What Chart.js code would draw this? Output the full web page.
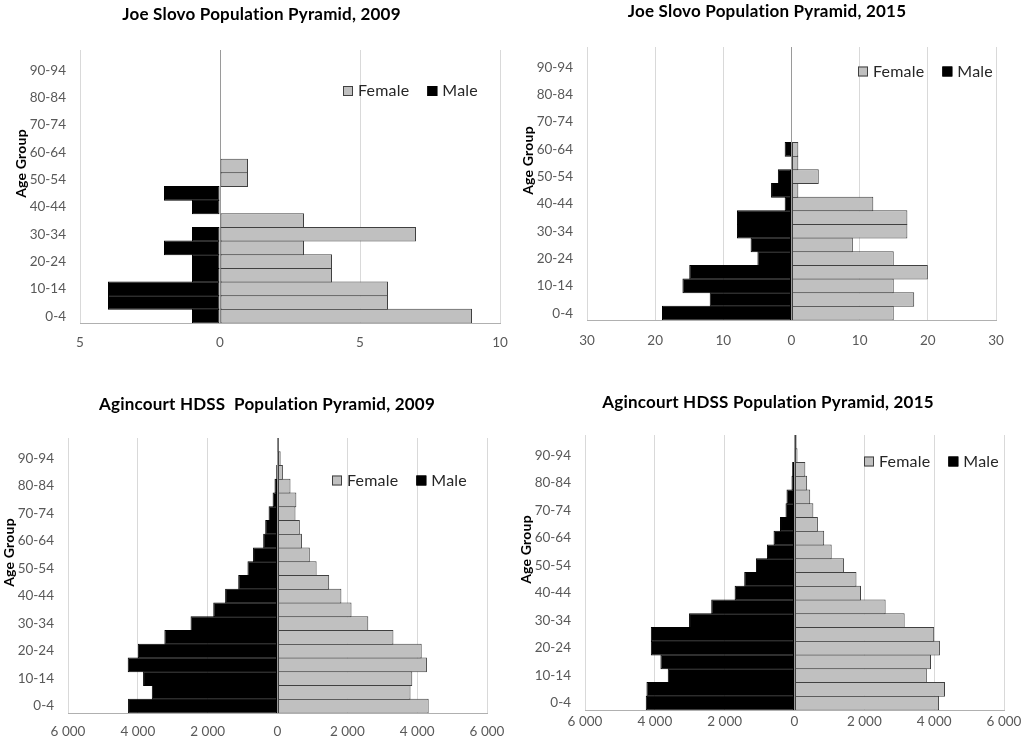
<!DOCTYPE html>
<html>
<head>
<meta charset="utf-8">
<script src="https://cdn.jsdelivr.net/npm/chart.js@4.4.1/dist/chart.umd.min.js"></script>
<style>
  body { margin: 0; background: #fff; }
  canvas { position: absolute; }
</style>
</head>
<body>
<canvas id="c1" width="512" height="371" style="left:0;top:0"></canvas>
<canvas id="c2" width="511" height="371" style="left:512px;top:0"></canvas>
<canvas id="c3" width="512" height="371" style="left:0;top:371px"></canvas>
<canvas id="c4" width="511" height="371" style="left:512px;top:371px"></canvas>
<script>
const ageGroups = ['0-4', '5-9', '10-14', '15-19', '20-24', '25-29', '30-34', '35-39', '40-44', '45-49',
    '50-54', '55-59', '60-64', '65-69', '70-74', '75-79', '80-84', '85-89', '90-94', '95+'];

// Joe Slovo
const jsFemale2009 = [9, 6, 6, 4, 4, 3, 7, 3, 0, 0, 1, 1, 0, 0, 0, 0, 0, 0, 0, 0];
const jsMale2009   = [1, 4, 4, 1, 1, 2, 1, 0, 1, 2, 0, 0, 0, 0, 0, 0, 0, 0, 0, 0];
const jsFemale2015 = [15, 18, 15, 20, 15, 9, 17, 17, 12, 1, 4, 1, 1, 0, 0, 0, 0, 0, 0, 0];
const jsMale2015   = [19, 12, 16, 15, 5, 6, 8, 8, 1, 3, 2, 0, 1, 0, 0, 0, 0, 0, 0, 0];

// Agincourt HDSS
const agFemale2009 = [4330, 3810, 3860, 4280, 4130, 3320, 2600, 2120, 1830, 1480, 1120, 925, 700, 640, 515, 540, 372, 155, 90, 40];
const agMale2009   = [4280, 3600, 3850, 4290, 4000, 3240, 2490, 1840, 1500, 1125, 860, 700, 410, 352, 255, 140, 86, 37, 15, 5];
const agFemale2015 = [4140, 4310, 3790, 3910, 4165, 4000, 3155, 2610, 1905, 1775, 1420, 1065, 850, 670, 540, 450, 362, 310, 86, 60];
const agMale2015   = [4260, 4240, 3630, 3840, 4115, 4115, 3020, 2385, 1715, 1440, 1105, 790, 600, 415, 257, 229, 86, 67, 10, 0];

const FONT = 'Lato';
const TICK_COLOR = '#595959';

// draws title, rotated axis title and the in-plot legend
const decor = {
    id: 'decor',
    afterDraw(chart, args, o) {
        const ctx = chart.ctx, a = chart.chartArea;
        ctx.save();
        ctx.letterSpacing = '0.2px'; // stops Lato's "ti" ligature
        ctx.fillStyle = '#000';
        ctx.textAlign = 'center';
        ctx.textBaseline = 'middle';
        ctx.font = `bold 17px ${FONT}`;
        ctx.fillText(o.title, o.titleX, o.titleY);

        ctx.save();
        ctx.translate(a.left - 59, (a.top + a.bottom) / 2 - 23);
        ctx.rotate(-Math.PI / 2);
        ctx.font = `bold 14px ${FONT}`;
        ctx.fillText('Age Group', 0, 0);
        ctx.restore();

        // legend
        ctx.font = `16px ${FONT}`;
        ctx.textAlign = 'left';
        let x = o.legX;
        chart.data.datasets.forEach(ds => {
            ctx.fillStyle = ds.backgroundColor;
            ctx.fillRect(x, o.legY - 5, 10, 10);
            ctx.strokeStyle = ds.borderColor;
            ctx.lineWidth = 1;
            ctx.strokeRect(x + 0.5, o.legY - 4.5, 9, 9);
            ctx.fillStyle = '#262626';
            ctx.fillText(ds.label, x + 15, o.legY);
            x += 15 + ctx.measureText(ds.label).width + 18;
        });
        ctx.restore();
    }
};

function fmt(v) {
    return Math.abs(v).toString().replace(/\B(?=(\d{3})+(?!\d))/g, ' ');
}

function makePyramid(id, female, male, range, step, box) {
    const cv = document.getElementById(id);
    new Chart(cv, {
        type: 'bar',
        data: {
            labels: ageGroups,
            datasets: [
                {
                    label: 'Female',
                    data: female,
                    backgroundColor: '#c0c0c0',
                    borderColor: '#404040',
                    borderWidth: 1,
                    borderSkipped: false
                },
                {
                    label: 'Male',
                    data: male.map(v => -v),
                    backgroundColor: '#000000',
                    borderColor: '#000000',
                    borderWidth: 1,
                    borderSkipped: false
                }
            ]
        },
        options: {
            indexAxis: 'y',
            responsive: false,
            animation: false,
            barPercentage: 1.07,
            categoryPercentage: 1,
            layout: { padding: { top: box.T, right: cv.width - box.R, left: 0, bottom: 0 } },
            plugins: {
                legend: { display: false },
                tooltip: { enabled: false },
                decor: box
            },
            scales: {
                x: {
                    stacked: true,
                    min: range[0],
                    max: range[1],
                    ticks: {
                        stepSize: step,
                        color: TICK_COLOR,
                        font: { family: FONT, size: 13.5 },
                        padding: box.xPad,
                        maxRotation: 0,
                        callback: v => fmt(v)
                    },
                    grid: {
                        drawTicks: false,
                        color: c => c.tick && c.tick.value === 0 ? '#9a9a9a' : '#d9d9d9'
                    },
                    border: { color: '#b0b0b0' },
                    afterFit: s => {
                        s.height = cv.height - box.B;
                        s.paddingLeft = 0;
                        s.paddingRight = 0;
                    }
                },
                y: {
                    stacked: true,
                    reverse: true,
                    ticks: {
                        autoSkip: false,
                        color: TICK_COLOR,
                        font: { family: FONT, size: 13.5 },
                        padding: 14,
                        callback: (v, i) => i % 2 === 0 ? ageGroups[i] : ''
                    },
                    grid: { display: false, drawTicks: false },
                    border: { display: false },
                    afterFit: s => { s.width = box.L; }
                }
            }
        },
        plugins: [decor]
    });
}

makePyramid('c1', jsFemale2009, jsMale2009, [-5, 10], 5,
    { L: 80, R: 500, T: 50, B: 323, xPad: 12, title: 'Joe Slovo Population Pyramid, 2009', titleX: 261.5, titleY: 15, legX: 343, legY: 91 });
makePyramid('c2', jsFemale2015, jsMale2015, [-30, 30], 10,
    { L: 75, R: 484, T: 47, B: 320, xPad: 13, title: 'Joe Slovo Population Pyramid, 2015', titleX: 255, titleY: 12, legX: 346, legY: 71.5 });
makePyramid('c3', agFemale2009, agMale2009, [-6000, 6000], 2000,
    { L: 68, R: 487, T: 67, B: 342, xPad: 11, title: 'Agincourt HDSS  Population Pyramid, 2009', titleX: 267, titleY: 34, legX: 332, legY: 109.5 });
makePyramid('c4', agFemale2015, agMale2015, [-6000, 6000], 2000,
    { L: 73, R: 492, T: 64, B: 339, xPad: 4, title: 'Agincourt HDSS Population Pyramid, 2015', titleX: 256, titleY: 32, legX: 352, legY: 90.5 });
</script>
</body>
</html>
